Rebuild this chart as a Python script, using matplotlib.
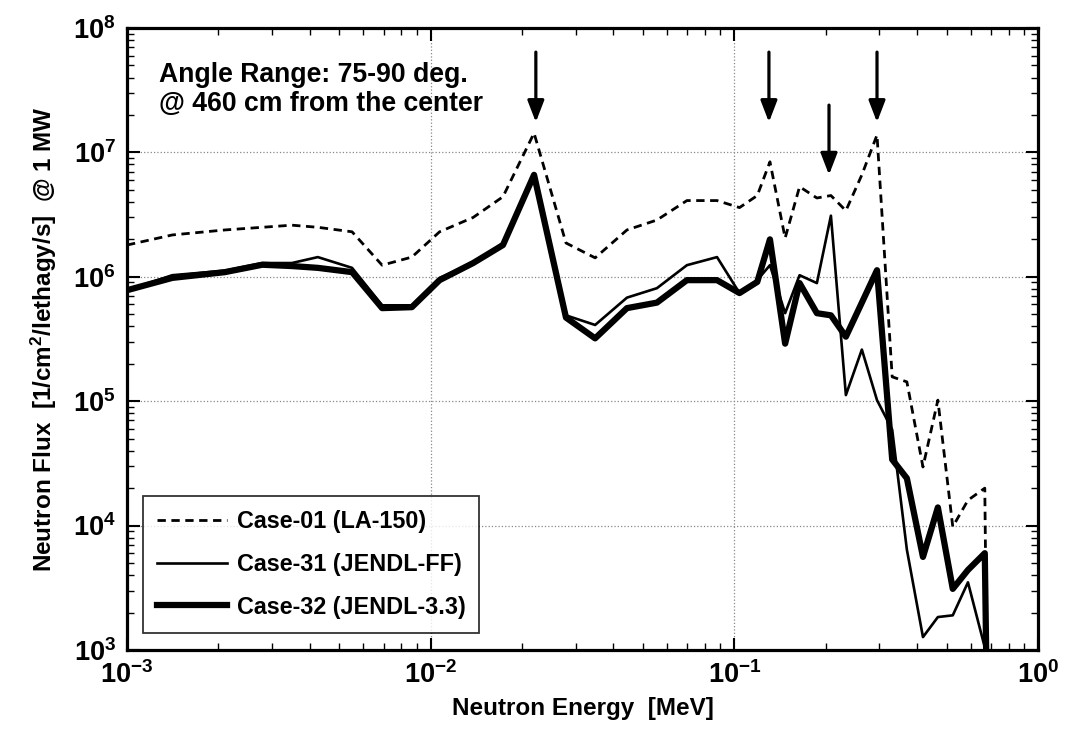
import numpy as np
import matplotlib
matplotlib.use("Agg")
import matplotlib.pyplot as plt
from matplotlib.ticker import LogLocator, NullFormatter

plt.rcParams['font.family'] = ['Liberation Sans', 'DejaVu Sans']
plt.rcParams['font.weight'] = 'bold'
plt.rcParams['mathtext.fontset'] = 'custom'
plt.rcParams['mathtext.rm'] = 'Liberation Sans:bold'
plt.rcParams['mathtext.it'] = 'Liberation Sans:bold'
plt.rcParams['mathtext.bf'] = 'Liberation Sans:bold'
plt.rcParams['mathtext.default'] = 'regular'

# Energy grid [MeV]
energy = [1.00e-3, 1.41e-3, 2.10e-3, 2.79e-3, 3.49e-3, 4.25e-3, 5.51e-3, 6.92e-3,
          8.67e-3, 1.07e-2, 1.38e-2, 1.73e-2, 2.19e-2, 2.79e-2, 3.48e-2, 4.43e-2,
          5.56e-2, 6.98e-2, 8.77e-2, 0.104, 0.119, 0.131, 0.147, 0.164, 0.187,
          0.208, 0.233, 0.263, 0.295, 0.331, 0.370, 0.418, 0.468, 0.524, 0.588,
          0.668, 0.684]

case01 = [1.8e6, 2.17e6, 2.38e6, 2.5e6, 2.6e6, 2.5e6, 2.3e6, 1.24e6,
          1.44e6, 2.3e6, 3.0e6, 4.4e6, 1.43e7, 1.87e6, 1.42e6, 2.38e6,
          2.86e6, 4.1e6, 4.1e6, 3.6e6, 4.5e6, 8.4e6, 2.05e6, 5.3e6, 4.3e6,
          4.5e6, 3.4e6, 6.6e6, 1.38e7, 1.57e5, 1.43e5, 2.96e4, 1.02e5, 9.8e3, 1.6e4,
          2.0e4, 1.0e2]

case31 = [7.8e5, 1.03e6, 1.12e6, 1.29e6, 1.29e6, 1.44e6, 1.18e6, 5.9e5,
          5.9e5, 9.8e5, 1.29e6, 1.87e6, 6.6e6, 4.9e5, 4.1e5, 6.8e5,
          8.1e5, 1.24e6, 1.44e6, 7.4e5, 9.4e5, 1.24e6, 5.1e5, 1.03e6, 8.9e5,
          3.1e6, 1.12e5, 2.6e5, 1.02e5, 5.9e4, 6.4e3, 1.27e3, 1.84e3, 1.9e3, 3.5e3,
          1.05e3, 1.0e2]

case32 = [7.8e5, 9.8e5, 1.09e6, 1.25e6, 1.22e6, 1.18e6, 1.09e6, 5.6e5,
          5.7e5, 9.4e5, 1.29e6, 1.8e6, 6.6e6, 4.7e5, 3.2e5, 5.6e5,
          6.2e5, 9.4e5, 9.4e5, 7.4e5, 9.1e5, 2.0e6, 2.9e5, 8.9e5, 5.1e5,
          4.9e5, 3.3e5, 6.2e5, 1.13e6, 3.4e4, 2.4e4, 5.6e3, 1.4e4, 3.1e3, 4.4e3,
          6.0e3, 1.0e2]

labels = ["Case-01 (LA-150)", "Case-31 (JENDL-FF)", "Case-32 (JENDL-3.3)"]

# Arrow annotations: energy, tail flux, head flux
arrow_energy = [0.0222, 0.130, 0.205, 0.295]
arrow_tail = [6.4e7, 6.4e7, 2.4e7, 6.4e7]
arrow_head = [1.75e7, 1.75e7, 6.6e6, 1.75e7]

fig = plt.figure(figsize=(10.65, 7.46), dpi=100)
ax = fig.add_axes([127/1065, 1-650/746, (1038-127)/1065, (650-28)/746])

ax.plot(energy, case01, color='black', lw=2.0, ls=(0, (3.0, 2.0)), label=labels[0])
ax.plot(energy, case31, color='black', lw=1.9, label=labels[1])
ax.plot(energy, case32, color='black', lw=4.5, label=labels[2])

ax.set_xscale('log')
ax.set_yscale('log')
ax.set_xlim(1e-3, 1e0)
ax.set_ylim(1e3, 1e8)

ax.xaxis.set_major_locator(LogLocator(base=10, numticks=10))
ax.yaxis.set_major_locator(LogLocator(base=10, numticks=10))
ax.xaxis.set_minor_locator(LogLocator(base=10, subs=np.arange(2, 10), numticks=20))
ax.yaxis.set_minor_locator(LogLocator(base=10, subs=np.arange(2, 10), numticks=20))
ax.xaxis.set_minor_formatter(NullFormatter())
ax.yaxis.set_minor_formatter(NullFormatter())

ax.tick_params(which='both', direction='in', top=True, right=True)
ax.tick_params(which='major', length=9, width=1.5, labelsize=19.5, pad=8)
ax.tick_params(which='minor', length=5, width=1.0)
for s in ax.spines.values():
    s.set_linewidth(2.3)

ax.grid(True, which='major', ls=':', color='#888888', lw=0.9)

for e, t, h in zip(arrow_energy, arrow_tail, arrow_head):
    ax.annotate('', xy=(e, h), xytext=(e, t),
                arrowprops=dict(arrowstyle='-|>,head_length=1.3,head_width=0.5',
                                color='black', lw=2.3, shrinkA=0, shrinkB=0))

ax.text(0.035, 0.945, "Angle Range: 75-90 deg.\n@ 460 cm from the center",
        transform=ax.transAxes, ha='left', va='top', fontsize=19.2,
        fontweight='bold', linespacing=1.12)

ax.set_xlabel("Neutron Energy  [MeV]", fontsize=17.5, fontweight='bold', labelpad=6)
ax.set_ylabel("Neutron Flux  [1/cm$^2$/lethagy/s]  @ 1 MW", fontsize=17.5,
              fontweight='bold', labelpad=10)

leg = ax.legend(loc='lower left', bbox_to_anchor=(0.018, 0.028), borderaxespad=0,
                fontsize=16.8, frameon=True, fancybox=False, edgecolor='black',
                handlelength=3.0, handletextpad=0.4, labelspacing=0.85,
                borderpad=0.6)
leg.get_frame().set_linewidth(1.3)

fig.savefig("out.png", dpi=100)
